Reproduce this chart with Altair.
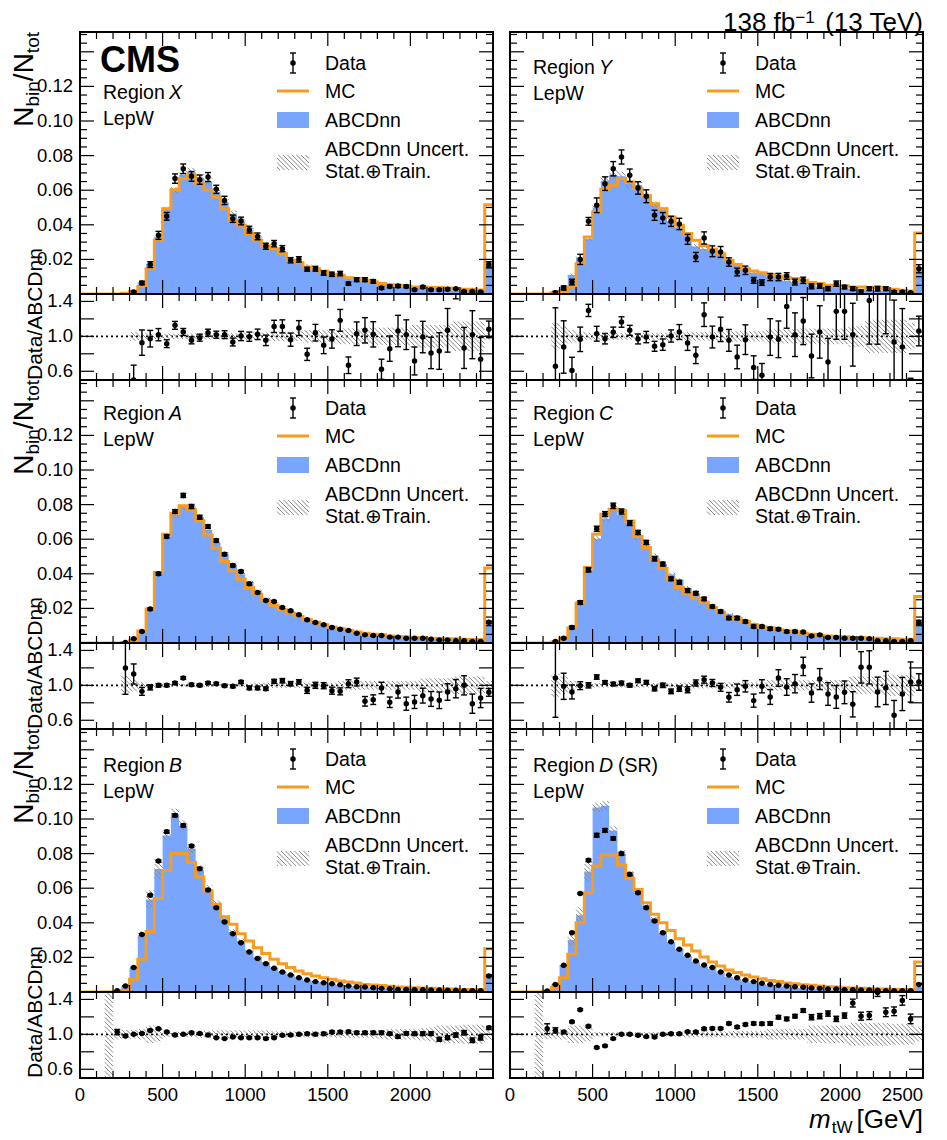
import math
import altair as alt
import pandas as pd

# ------------------------------------------------------------------ geometry / style
W = 413                      # plot width of every panel (px)
HM_ROWS = [262, 263, 263]    # main panel heights (rows 1..3)
HR = 86                      # ratio panel height
PX_PER_UNIT = 34.6 / 0.02    # vertical scale of the main panels
YR = [0.5, 1.485]
FONT = "Liberation Sans"
BLUE = "#79a6fc"
ORANGE = "#f89c20"
HATCH = "#8a8a8a"

EDGES = list(range(0, 2501, 50))
CENTERS = [e + 25 for e in EDGES[:-1]]

# ------------------------------------------------------------------ Region X
X_ABCD = [0, 0, 0, 0, 0, 0.0005, 0.0025, 0.0069, 0.0175, 0.033,
          0.049, 0.060, 0.069, 0.0705, 0.067, 0.065, 0.059, 0.053, 0.0465, 0.042,
          0.0373, 0.0326, 0.0289, 0.0262, 0.0236, 0.0203, 0.0183, 0.0162, 0.0146, 0.0133,
          0.0117, 0.0102, 0.0092, 0.0083, 0.0078, 0.0071, 0.0058, 0.0052, 0.0046, 0.0044,
          0.0036, 0.0040, 0.0030, 0.0030, 0.0027, 0.0022, 0.0019, 0.0016, 0.0017, 0.0163]
X_MC = [0, 0, 0, 0, 0, 0.0005, 0.0015, 0.0044, 0.0146, 0.031,
        0.0493, 0.0603, 0.0667, 0.0686, 0.0638, 0.0599, 0.056, 0.0493, 0.0426, 0.0397,
        0.0349, 0.031, 0.0281, 0.0262, 0.0233, 0.0195, 0.0181, 0.0156, 0.0146, 0.0131,
        0.0112, 0.0108, 0.0094, 0.0089, 0.0079, 0.0069, 0.006, 0.0054, 0.005, 0.0046,
        0.004, 0.004, 0.0037, 0.0037, 0.0035, 0.0031, 0.0027, 0.0027, 0.0023, 0.0516]
X_DATA = [None, None, None, None, None, None, 0.0012, 0.0064, 0.0170, 0.0339,
          0.0449, 0.0667, 0.0724, 0.0680, 0.0661, 0.0676, 0.0605, 0.0541, 0.0435, 0.0422,
          0.0372, 0.0333, 0.0276, 0.0291, 0.0262, 0.0195, 0.0200, 0.0143, 0.0146, 0.0121,
          0.0114, 0.0118, 0.0060, 0.0083, 0.0083, 0.0073, 0.0035, 0.0044, 0.0046, 0.0044,
          0.0025, 0.0040, 0.0025, 0.0025, 0.0027, 0.0031, 0.0015, 0.0015, 0.0012, 0.0171]
X_RATIO = [None, None, None, None, None, None, 0.50, 0.928, 0.973, 1.019,
           0.916, 1.126, 1.05, 0.954, 0.985, 1.042, 1.019, 1.019, 0.935, 1.004,
           0.996, 1.023, 0.954, 1.114, 1.114, 0.962, 1.095, 0.794, 1.042, 0.897,
           0.97, 1.183, 0.669, 1.03, 1.069, 1.023, 0.623, 0.859, 1.061, 1.019,
           0.718, 0.992, 0.81, 0.832, 1.069, 1.6, 0.867, 1.019, 0.737, 1.08]
X_RERR = [0, 0, 0, 0, 0, 0, 0.17, 0.145, 0.095, 0.07,
          0.045, 0.045, 0.04, 0.04, 0.04, 0.04, 0.04, 0.045, 0.045, 0.053,
          0.053, 0.06, 0.06, 0.07, 0.075, 0.075, 0.085, 0.07, 0.095, 0.095,
          0.105, 0.125, 0.095, 0.135, 0.145, 0.145, 0.115, 0.145, 0.18, 0.17,
          0.16, 0.18, 0.18, 0.21, 0.25, 0.17, 0.235, 0.275, 0.25, 0.095]
X_UNC = [0, 0, 0, 0, 0, 0, 0.05, 0.04, 0.03, 0.03,
         0.03, 0.03, 0.03, 0.035, 0.035, 0.035, 0.035, 0.035, 0.035, 0.045,
         0.045, 0.045, 0.045, 0.055, 0.055, 0.055, 0.055, 0.07, 0.07, 0.07,
         0.07, 0.09, 0.09, 0.09, 0.09, 0.1, 0.1, 0.1, 0.1, 0.1,
         0.13, 0.13, 0.13, 0.13, 0.13, 0.17, 0.17, 0.17, 0.17, 0.04]

# ------------------------------------------------------------------ Region Y
Y_ABCD = [0, 0, 0, 0, 0, 0.0012, 0.004, 0.011, 0.021, 0.032,
          0.050, 0.0655, 0.069, 0.068, 0.064, 0.063, 0.057, 0.0515, 0.0485, 0.042,
          0.0385, 0.034, 0.0275, 0.026, 0.0249, 0.0225, 0.0194, 0.0166, 0.0142, 0.0123,
          0.0119, 0.0099, 0.0101, 0.0077, 0.0068, 0.0067, 0.0057, 0.0044, 0.0044, 0.0047,
          0.0031, 0.0030, 0.0028, 0.0022, 0.002, 0.0018, 0.0013, 0.0014, 0.0012, 0.0138]
Y_MC = [0, 0, 0, 0, 0, 0.0008, 0.0015, 0.004, 0.0175, 0.033,
        0.0474, 0.0605, 0.0628, 0.0667, 0.0647, 0.0609, 0.057, 0.0522, 0.0493, 0.0445,
        0.0397, 0.0349, 0.031, 0.0281, 0.0258, 0.0233, 0.0195, 0.017, 0.0146, 0.0133,
        0.0123, 0.0112, 0.0104, 0.0094, 0.0089, 0.0079, 0.0066, 0.006, 0.005, 0.0046,
        0.0046, 0.004, 0.004, 0.0037, 0.0037, 0.0031, 0.0027, 0.0021, 0.0017, 0.0353]
Y_DATA = [None, None, None, None, None, 0.0008, 0.0035, 0.0069, 0.0200, 0.042,
          0.0513, 0.0638, 0.0724, 0.0792, 0.0686, 0.0613, 0.0565, 0.0455, 0.0439, 0.0420,
          0.0405, 0.0316, 0.0214, 0.0324, 0.0247, 0.0243, 0.0185, 0.0127, 0.0137, 0.0079,
          0.0066, 0.0098, 0.0098, 0.0104, 0.0069, 0.0079, 0.0044, 0.0046, 0.0031, 0.0060,
          0.0040, 0.0031, 0.0012, 0.0031, 0.0031, 0.0031, 0.0012, 0.0012, 0.0008, 0.0146]
Y_RATIO = [None, None, None, None, None, 0.657, 0.878, 0.61, 0.966, 1.297,
           1.03, 0.973, 1.046, 1.164, 1.069, 0.97, 0.992, 0.886, 0.905, 1.004,
           1.05, 0.924, 0.783, 1.248, 0.992, 1.08, 0.954, 0.764, 0.962, 0.642,
           0.554, 0.992, 0.966, 1.343, 1.019, 1.175, 0.775, 1.05, 0.707, 1.286,
           1.286, 1.019, 2.5, 1.411, 1.6, 1.65, 0.935, 0.878, 0.3, 1.061]
Y_RERR = [0, 0, 0, 0, 0, 0.67, 0.3, 0.15, 0.14, 0.07,
          0.085, 0.06, 0.06, 0.06, 0.057, 0.057, 0.065, 0.057, 0.065, 0.07,
          0.085, 0.085, 0.095, 0.135, 0.125, 0.14, 0.125, 0.135, 0.17, 0.135,
          0.135, 0.21, 0.21, 0.25, 0.25, 0.27, 0.25, 0.3, 0.27, 0.32,
          0.32, 0.36, 0.4, 0.5, 0.69, 0.62, 0.48, 0.44, 0.22, 0.17]
Y_UNC = [0, 0, 0, 0, 0, 0.15, 0.11, 0.07, 0.05, 0.04,
         0.04, 0.04, 0.04, 0.04, 0.04, 0.04, 0.04, 0.04, 0.04, 0.05,
         0.05, 0.05, 0.05, 0.05, 0.05, 0.06, 0.06, 0.06, 0.06, 0.06,
         0.06, 0.08, 0.08, 0.08, 0.08, 0.09, 0.09, 0.09, 0.09, 0.09,
         0.09, 0.12, 0.12, 0.19, 0.19, 0.19, 0.19, 0.19, 0.15, 0.06]

# ------------------------------------------------------------------ Region A
A_ABCD = [0, 0, 0, 0, 0, 0.0003, 0.0021, 0.0071, 0.0200, 0.040,
          0.0616, 0.074, 0.0787, 0.0783, 0.0727, 0.0655, 0.0581, 0.0515, 0.0453, 0.0398,
          0.0353, 0.0301, 0.0256, 0.0229, 0.0195, 0.0183, 0.0157, 0.0142, 0.0118, 0.0105,
          0.0096, 0.0086, 0.0071, 0.0062, 0.0058, 0.0051, 0.0044, 0.0042, 0.0037, 0.0035,
          0.0035, 0.0032, 0.0026, 0.0022, 0.002, 0.0014, 0.0013, 0.0011, 0.0011, 0.013]
A_MC = [0, 0, 0, 0, 0, 0.0003, 0.0013, 0.007, 0.0196, 0.0407,
        0.0629, 0.075, 0.0793, 0.077, 0.0706, 0.0625, 0.0548, 0.0471, 0.0417, 0.0369,
        0.0321, 0.0282, 0.0244, 0.0217, 0.0192, 0.0172, 0.0153, 0.0134, 0.012, 0.0105,
        0.0092, 0.0082, 0.0072, 0.0063, 0.0057, 0.0051, 0.0047, 0.0041, 0.0038, 0.0034,
        0.0032, 0.003, 0.0028, 0.0026, 0.0024, 0.0024, 0.0022, 0.002, 0.002, 0.0433]
A_DATA = [None, None, None, None, None, 0.0003, 0.0024, 0.0066, 0.0196, 0.040,
          0.0616, 0.076, 0.0853, 0.0789, 0.0727, 0.0673, 0.0592, 0.0513, 0.0448, 0.0413,
          0.0342, 0.0292, 0.0246, 0.024, 0.0205, 0.0186, 0.0163, 0.0134, 0.0118, 0.0105,
          0.009, 0.008, 0.0072, 0.0057, 0.0047, 0.0043, 0.0043, 0.0034, 0.0034, 0.0028,
          0.0028, 0.0028, 0.0022, 0.0018, 0.0018, 0.0013, 0.0013, 0.0009, 0.0009, 0.012]
A_RATIO = [None, None, None, None, None, 1.198, 1.13, 0.931, 0.977, 1.0,
           1.0, 1.027, 1.084, 1.008, 1.0, 1.027, 1.019, 0.996, 0.989, 1.038,
           0.97, 0.97, 0.962, 1.046, 1.053, 1.019, 1.038, 0.943, 1.0, 0.996,
           0.939, 0.931, 1.019, 1.038, 0.817, 0.836, 0.97, 0.806, 0.924, 0.79,
           0.81, 0.882, 0.844, 0.829, 0.924, 0.962, 1.0, 0.79, 0.855, 0.92]
A_RERR = [0, 0, 0, 0, 0, 0.3, 0.115, 0.045, 0.03, 0.02,
          0.015, 0.015, 0.015, 0.015, 0.015, 0.015, 0.015, 0.015, 0.017, 0.017,
          0.02, 0.02, 0.02, 0.022, 0.025, 0.025, 0.027, 0.035, 0.035, 0.035,
          0.04, 0.04, 0.045, 0.045, 0.055, 0.055, 0.065, 0.06, 0.07, 0.075,
          0.075, 0.085, 0.085, 0.095, 0.095, 0.105, 0.11, 0.11, 0.11, 0.045]
A_UNC = [0, 0, 0, 0, 0, 0.11, 0.07, 0.04, 0.02, 0.02,
         0.02, 0.02, 0.02, 0.02, 0.02, 0.02, 0.02, 0.02, 0.02, 0.02,
         0.02, 0.03, 0.03, 0.03, 0.03, 0.03, 0.03, 0.03, 0.03, 0.03,
         0.03, 0.05, 0.05, 0.05, 0.05, 0.05, 0.05, 0.05, 0.05, 0.05,
         0.05, 0.08, 0.08, 0.08, 0.08, 0.1, 0.1, 0.1, 0.1, 0.05]

# ------------------------------------------------------------------ Region C
C_ABCD = [0, 0, 0, 0, 0, 0.0008, 0.0028, 0.0097, 0.0235, 0.0423,
          0.0603, 0.072, 0.0781, 0.074, 0.0693, 0.0607, 0.0562, 0.0506, 0.0456, 0.0398,
          0.0365, 0.0319, 0.028, 0.0239, 0.0205, 0.0186, 0.0167, 0.0152, 0.0125, 0.0115,
          0.0096, 0.0095, 0.0074, 0.0067, 0.0065, 0.0052, 0.0045, 0.0044, 0.0036, 0.0037,
          0.003, 0.0036, 0.0023, 0.002, 0.0014, 0.0013, 0.0014, 0.001, 0.0013, 0.0116]
C_MC = [0, 0, 0, 0, 0, 0.0006, 0.0028, 0.0086, 0.023, 0.0436,
        0.0629, 0.0744, 0.0773, 0.0766, 0.0705, 0.0616, 0.0552, 0.048, 0.0432, 0.0365,
        0.0321, 0.0288, 0.0259, 0.0236, 0.0205, 0.0176, 0.0153, 0.014, 0.0124, 0.0105,
        0.0092, 0.0086, 0.0076, 0.007, 0.0063, 0.0057, 0.0051, 0.0043, 0.0041, 0.0038,
        0.0036, 0.0032, 0.0032, 0.0028, 0.0028, 0.0024, 0.0024, 0.0022, 0.0022, 0.0269]
C_DATA = [None, None, None, None, None, 0.0009, 0.0028, 0.009, 0.0234, 0.0423,
          0.066, 0.0745, 0.0793, 0.076, 0.0693, 0.0639, 0.0581, 0.0487, 0.0456, 0.0371,
          0.0351, 0.0303, 0.0288, 0.0255, 0.0211, 0.0182, 0.0144, 0.0144, 0.0124, 0.0095,
          0.0095, 0.0082, 0.008, 0.0066, 0.0066, 0.0063, 0.0041, 0.0047, 0.0032, 0.0032,
          0.0028, 0.0028, 0.0028, 0.0024, 0.0013, 0.0013, 0.0009, 0.0009, 0.0013, 0.012]
C_RATIO = [None, None, None, None, None, 1.084, 0.989, 0.924, 0.996, 1.0,
           1.095, 1.034, 1.015, 1.027, 1.0, 1.053, 1.034, 0.962, 1.0, 0.931,
           0.962, 0.95, 1.027, 1.065, 1.027, 0.977, 0.863, 0.95, 0.989, 0.825,
           0.989, 0.867, 1.084, 0.981, 1.019, 1.217, 0.912, 1.072, 0.901, 0.867,
           0.92, 0.783, 1.206, 1.206, 0.924, 0.97, 0.657, 0.901, 1.038, 1.038]
C_RERR = [0, 0, 0, 0, 0, 0.45, 0.15, 0.08, 0.045, 0.03,
          0.025, 0.02, 0.02, 0.02, 0.02, 0.02, 0.022, 0.025, 0.025, 0.027,
          0.03, 0.035, 0.035, 0.04, 0.04, 0.045, 0.055, 0.065, 0.065, 0.075,
          0.075, 0.085, 0.095, 0.095, 0.105, 0.105, 0.105, 0.12, 0.13, 0.13,
          0.13, 0.145, 0.18, 0.19, 0.17, 0.19, 0.17, 0.19, 0.23, 0.095]
C_UNC = [0, 0, 0, 0, 0, 0.13, 0.1, 0.05, 0.025, 0.025,
         0.025, 0.025, 0.025, 0.025, 0.025, 0.025, 0.025, 0.025, 0.025, 0.025,
         0.025, 0.035, 0.035, 0.035, 0.035, 0.035, 0.035, 0.035, 0.035, 0.035,
         0.035, 0.06, 0.06, 0.06, 0.06, 0.06, 0.06, 0.06, 0.06, 0.06,
         0.06, 0.1, 0.1, 0.1, 0.1, 0.12, 0.12, 0.12, 0.12, 0.05]

# ------------------------------------------------------------------ Region B
B_ABCD = [0, 0, 0, 0.0001, 0.0008, 0.0036, 0.0141, 0.033, 0.0535, 0.0711,
          0.0904, 0.1029, 0.0963, 0.0828, 0.0705, 0.0595, 0.0506, 0.0426, 0.0347, 0.0296,
          0.024, 0.0201, 0.0172, 0.0142, 0.0117, 0.0099, 0.0083, 0.0068, 0.006, 0.0054,
          0.0047, 0.0041, 0.0034, 0.003, 0.0028, 0.0025, 0.0021, 0.0019, 0.0015, 0.0015,
          0.0013, 0.0013, 0.0012, 0.0011, 0.001, 0.0009, 0.0008, 0.0008, 0.0008, 0.0086]
B_MC = [0, 0, 0, 0, 0.0003, 0.001, 0.0073, 0.0189, 0.0349, 0.0541,
        0.0703, 0.080, 0.080, 0.0748, 0.0665, 0.0584, 0.0507, 0.0435, 0.0391, 0.0337,
        0.0295, 0.0256, 0.0222, 0.0189, 0.0164, 0.0141, 0.0121, 0.0106, 0.0092, 0.0083,
        0.0073, 0.0064, 0.0058, 0.0052, 0.0044, 0.004, 0.0037, 0.0033, 0.0029, 0.0027,
        0.0025, 0.0023, 0.0021, 0.0019, 0.0017, 0.0016, 0.0015, 0.0014, 0.0014, 0.025]
B_DATA = [None, None, None, None, 0.0008, 0.0035, 0.0141, 0.0333, 0.0559, 0.0757,
          0.0927, 0.1021, 0.0963, 0.0844, 0.0713, 0.059, 0.0487, 0.0405, 0.0337, 0.0285,
          0.0231, 0.0193, 0.0164, 0.0137, 0.0116, 0.0098, 0.0083, 0.0069, 0.006, 0.0054,
          0.0048, 0.0042, 0.0035, 0.0031, 0.0029, 0.0025, 0.0021, 0.0019, 0.0015, 0.0015,
          0.0013, 0.0013, 0.0012, 0.0012, 0.001, 0.001, 0.0008, 0.0008, 0.0008, 0.0092]
B_RATIO = [None, None, None, None, 1.026, 0.981, 1.0, 1.011, 1.045, 1.064,
           1.026, 0.992, 1.0, 1.019, 1.011, 0.992, 0.962, 0.951, 0.97, 0.962,
           0.962, 0.962, 0.951, 0.962, 0.989, 0.992, 1.0, 1.008, 1.0, 1.008,
           1.026, 1.026, 1.03, 1.019, 1.019, 1.019, 1.019, 1.008, 0.974, 1.011,
           1.008, 1.008, 1.008, 0.943, 0.962, 0.992, 1.019, 0.932, 0.962, 1.075]
B_RERR = [0, 0, 0, 0, 0.03, 0.012, 0.008, 0.008, 0.008, 0.008,
          0.008, 0.008, 0.008, 0.008, 0.008, 0.008, 0.008, 0.008, 0.008, 0.008,
          0.01, 0.01, 0.01, 0.01, 0.01, 0.012, 0.012, 0.012, 0.012, 0.012,
          0.014, 0.014, 0.014, 0.015, 0.015, 0.015, 0.016, 0.016, 0.017, 0.018,
          0.018, 0.02, 0.02, 0.022, 0.022, 0.024, 0.025, 0.026, 0.027, 0.015]
B_UNC = [0, 0, 0, 5.0, 0.06, 0.05, 0.05, 0.06, 0.1, 0.08,
         0.03, 0.03, 0.03, 0.03, 0.04, 0.04, 0.045, 0.045, 0.045, 0.045,
         0.045, 0.045, 0.045, 0.035, 0.035, 0.035, 0.035, 0.035, 0.035, 0.035,
         0.035, 0.04, 0.04, 0.04, 0.04, 0.05, 0.05, 0.06, 0.06, 0.06,
         0.06, 0.07, 0.08, 0.1, 0.1, 0.1, 0.11, 0.11, 0.11, 0.06]

# ------------------------------------------------------------------ Region D (SR)
D_ABCD = [0, 0, 0, 0.0001, 0.0006, 0.0042, 0.015, 0.030, 0.0444, 0.0696,
          0.1067, 0.1076, 0.0934, 0.080, 0.068, 0.058, 0.050, 0.0423, 0.0343, 0.0289,
          0.0245, 0.0206, 0.0174, 0.0147, 0.0132, 0.0109, 0.0087, 0.0077, 0.0062, 0.0053,
          0.0045, 0.0039, 0.0033, 0.003, 0.0026, 0.0021, 0.0019, 0.0017, 0.0014, 0.0014,
          0.0011, 0.001, 0.001, 0.0008, 0.0007, 0.0006, 0.0006, 0.0006, 0.0006, 0.003]
D_MC = [0, 0, 0, 0, 0.0005, 0.0025, 0.0083, 0.0218, 0.04, 0.0574,
        0.0728, 0.0792, 0.0792, 0.0734, 0.0657, 0.0593, 0.0516, 0.0449, 0.0401, 0.0356,
        0.0308, 0.0272, 0.0237, 0.0202, 0.0173, 0.015, 0.0127, 0.0112, 0.0098, 0.0087,
        0.0077, 0.0067, 0.006, 0.0052, 0.0048, 0.0042, 0.0039, 0.0035, 0.0031, 0.0029,
        0.0025, 0.0023, 0.0021, 0.0019, 0.0017, 0.0017, 0.0015, 0.0014, 0.0014, 0.0173]
D_DATA = [None, None, None, None, 0.0006, 0.0044, 0.0154, 0.0343, 0.057, 0.0761,
          0.0906, 0.0934, 0.0888, 0.08, 0.068, 0.0574, 0.0487, 0.041, 0.0343, 0.0291,
          0.0247, 0.0212, 0.0179, 0.0156, 0.0141, 0.0116, 0.0098, 0.0083, 0.0069, 0.006,
          0.005, 0.0044, 0.0039, 0.0035, 0.0031, 0.0027, 0.0023, 0.0021, 0.0017, 0.0017,
          0.0013, 0.0013, 0.0012, 0.0011, 0.001, 0.0008, 0.0008, 0.0008, 0.0008, 0.0044]
D_RATIO = [None, None, None, None, 1.064, 1.045, 1.026, 1.143, 1.283, 1.094,
           0.849, 0.868, 0.951, 1.0, 1.0, 0.989, 0.974, 0.97, 1.0, 1.008,
           1.008, 1.03, 1.026, 1.064, 1.068, 1.068, 1.125, 1.083, 1.113, 1.125,
           1.121, 1.125, 1.196, 1.177, 1.208, 1.272, 1.196, 1.208, 1.238, 1.177,
           1.215, 1.358, 1.208, 1.215, 1.479, 1.253, 1.264, 1.389, 1.177, 1.6]
D_RERR = [0, 0, 0, 0, 0.057, 0.03, 0.01, 0.01, 0.01, 0.01,
          0.01, 0.01, 0.01, 0.01, 0.01, 0.01, 0.01, 0.01, 0.01, 0.01,
          0.01, 0.01, 0.012, 0.012, 0.012, 0.012, 0.014, 0.014, 0.014, 0.016,
          0.016, 0.02, 0.02, 0.02, 0.02, 0.02, 0.03, 0.03, 0.03, 0.03,
          0.03, 0.045, 0.045, 0.045, 0.045, 0.05, 0.05, 0.055, 0.055, 0.05]
D_UNC = [0, 0, 0, 5.0, 0.05, 0.05, 0.06, 0.1, 0.1, 0.08,
         0.025, 0.025, 0.025, 0.025, 0.025, 0.025, 0.025, 0.025, 0.025, 0.025,
         0.025, 0.035, 0.035, 0.035, 0.035, 0.035, 0.035, 0.04, 0.04, 0.04,
         0.04, 0.06, 0.06, 0.06, 0.06, 0.06, 0.1, 0.1, 0.1, 0.1,
         0.1, 0.13, 0.13, 0.13, 0.13, 0.13, 0.12, 0.12, 0.12, 0.08]

# ------------------------------------------------------------------ tick values / labels
X_MAJOR = [500, 1000, 1500, 2000]
X_MINOR = [100, 200, 300, 400, 600, 700, 800, 900, 1100, 1200, 1300, 1400,
           1600, 1700, 1800, 1900, 2100, 2200, 2300, 2400]
YM_MAJOR = [0.02, 0.04, 0.06, 0.08, 0.10, 0.12, 0.14]
YM_MINOR = [0.005, 0.01, 0.015, 0.025, 0.03, 0.035, 0.045, 0.05, 0.055, 0.065, 0.07,
            0.075, 0.085, 0.09, 0.095, 0.105, 0.11, 0.115, 0.125, 0.13, 0.135, 0.145, 0.15]
YR_MAJOR = [0.6, 0.8, 1.0, 1.2, 1.4]
YM_LABELS = [0.02, 0.04, 0.06, 0.08, 0.10, 0.12]
YM_LABEL_TEXT = ["0.02", "0.04", "0.06", "0.08", "0.10", "0.12"]
YR_LABELS = [0.6, 1.0, 1.4]
YR_LABEL_TEXT = ["0.6", "1.0", "1.4"]
X_LABELS = [0, 500, 1000, 1500, 2000]
X_LABEL_TEXT = ["0", "500", "1000", "1500", "2000"]
X_LAST = [2500]
X_LAST_TEXT = ["2500"]

TICKFS = 18.5
ONE = pd.DataFrame({"a": [0]})
XS = alt.Scale(domain=[0, 2500], nice=False, zero=False)


def yscale(dom):
    return alt.Scale(domain=dom, nice=False, zero=False)


def px2x(px):
    return px * 2500.0 / W


def py2y(py, dom, H):
    return dom[1] - py / H * (dom[1] - dom[0])


def txt(s, x, y, size=19.5, weight="normal", style="normal", align="left",
        angle=0, font=FONT):
    return alt.Chart(ONE).mark_text(
        text=s, fontSize=size, fontWeight=weight, fontStyle=style, align=align,
        baseline="alphabetic", angle=angle, font=font, color="black"
    ).encode(x=alt.value(x), y=alt.value(y))


def ylabel_layer(ys, vals, texts):
    df = pd.DataFrame({"v": vals, "t": texts})
    return alt.Chart(df).mark_text(align="right", baseline="middle", fontSize=TICKFS,
                                   font=FONT, color="black").encode(
        y=alt.Y("v:Q", scale=ys, axis=None), x=alt.value(-7), text="t:N")


def xlabel_layer(vals, texts, H, align):
    df = pd.DataFrame({"v": vals, "t": texts})
    return alt.Chart(df).mark_text(align=align, baseline="top", fontSize=TICKFS,
                                   font=FONT, color="black").encode(
        x=alt.X("v:Q", scale=XS, axis=None), y=alt.value(H + 8), text="t:N")


def hatch_df(lo_list, hi_list, dom, H, d=4.5):
    kx = W / 2500.0
    ky = H / (dom[1] - dom[0])
    rows = []
    for i in range(len(lo_list)):
        lo, hi = lo_list[i], hi_list[i]
        if lo is None:
            continue
        b0 = max(lo, dom[0])
        b1 = min(hi, dom[1])
        if b1 <= b0:
            continue
        X0, X1 = EDGES[i] * kx, EDGES[i + 1] * kx
        Y0, Y1 = (b0 - dom[0]) * ky, (b1 - dom[0]) * ky
        if Y1 - Y0 < 0.6:
            continue
        k = math.ceil((X0 + Y0) / d)
        while k * d < X1 + Y1:
            c = k * d
            xa = max(X0, c - Y1)
            xb = min(X1, c - Y0)
            if xb > xa:
                rows.append({"x": xa / kx, "y": dom[0] + (c - xa) / ky,
                             "x2": xb / kx, "y2": dom[0] + (c - xb) / ky})
            k += 1
    return pd.DataFrame(rows, columns=["x", "y", "x2", "y2"])


def hatch_box_df(px0, px1, py0, py1, dom, H, d=4.5):
    rows = []
    Y0, Y1 = H - py1, H - py0
    k = math.ceil((px0 + Y0) / d)
    while k * d < px1 + Y1:
        c = k * d
        xa = max(px0, c - Y1)
        xb = min(px1, c - Y0)
        if xb > xa:
            rows.append({"x": px2x(xa), "y": py2y(H - (c - xa), dom, H),
                         "x2": px2x(xb), "y2": py2y(H - (c - xb), dom, H)})
        k += 1
    return pd.DataFrame(rows, columns=["x", "y", "x2", "y2"])


def tick_layers(ys, H, ymaj, ymin):
    L = []
    for vals, ln in ((X_MAJOR, 14), (X_MINOR, 7)):
        df = pd.DataFrame({"v": vals})
        base = alt.Chart(df).mark_rule(color="black", strokeWidth=1.2)
        L.append(base.encode(x=alt.X("v:Q", scale=XS, axis=None),
                             y=alt.value(H), y2=alt.value(H - ln)))
        L.append(base.encode(x=alt.X("v:Q", scale=XS, axis=None),
                             y=alt.value(0), y2=alt.value(ln)))
    for vals, ln in ((ymaj, 14), (ymin, 7)):
        if not vals:
            continue
        df = pd.DataFrame({"v": vals})
        base = alt.Chart(df).mark_rule(color="black", strokeWidth=1.2)
        L.append(base.encode(y=alt.Y("v:Q", scale=ys, axis=None),
                             x=alt.value(0), x2=alt.value(ln)))
        L.append(base.encode(y=alt.Y("v:Q", scale=ys, axis=None),
                             x=alt.value(W), x2=alt.value(W - ln)))
    return L


def frame(H):
    return alt.Chart(ONE).mark_rect(fillOpacity=0, stroke="black", strokeWidth=2).encode(
        x=alt.value(0), x2=alt.value(W), y=alt.value(0), y2=alt.value(H))


def errorbar_layers(cx, val, err, ys):
    rows = []
    for c, v, e in zip(cx, val, err):
        if v is None:
            continue
        rows.append({"x": c, "v": v, "lo": v - e, "hi": v + e,
                     "xa": c - 18, "xb": c + 18})
    df = pd.DataFrame(rows)
    rule = alt.Chart(df).mark_rule(color="black", strokeWidth=1.4, clip=True)
    bar = rule.encode(x=alt.X("x:Q", scale=XS, axis=None),
                      y=alt.Y("lo:Q", scale=ys, axis=None), y2="hi:Q")
    cap_hi = rule.encode(x=alt.X("xa:Q", scale=XS, axis=None), x2="xb:Q",
                         y=alt.Y("hi:Q", scale=ys, axis=None))
    cap_lo = rule.encode(x=alt.X("xa:Q", scale=XS, axis=None), x2="xb:Q",
                         y=alt.Y("lo:Q", scale=ys, axis=None))
    pts = alt.Chart(df).mark_circle(color="black", size=30, opacity=1, clip=True).encode(
        x=alt.X("x:Q", scale=XS, axis=None), y=alt.Y("v:Q", scale=ys, axis=None))
    return [bar, cap_hi, cap_lo, pts]


def legend_layers(ys, dom, H, dy=0):
    L = []
    sx0, sx1, tx = 197, 229, 245
    dfd = pd.DataFrame({"x": [px2x(213)], "v": [py2y(29 + dy, dom, H)],
                        "lo": [py2y(39 + dy, dom, H)], "hi": [py2y(19 + dy, dom, H)],
                        "xa": [px2x(210)], "xb": [px2x(216)]})
    rule = alt.Chart(dfd).mark_rule(color="black", strokeWidth=1.4)
    L.append(rule.encode(x=alt.X("x:Q", scale=XS, axis=None),
                         y=alt.Y("lo:Q", scale=ys, axis=None), y2="hi:Q"))
    L.append(rule.encode(x=alt.X("xa:Q", scale=XS, axis=None), x2="xb:Q",
                         y=alt.Y("hi:Q", scale=ys, axis=None)))
    L.append(rule.encode(x=alt.X("xa:Q", scale=XS, axis=None), x2="xb:Q",
                         y=alt.Y("lo:Q", scale=ys, axis=None)))
    L.append(alt.Chart(dfd).mark_circle(color="black", size=30, opacity=1).encode(
        x=alt.X("x:Q", scale=XS, axis=None), y=alt.Y("v:Q", scale=ys, axis=None)))
    dfm = pd.DataFrame({"x": [px2x(sx0)], "x2": [px2x(sx1)], "y": [py2y(57 + dy, dom, H)]})
    L.append(alt.Chart(dfm).mark_rule(color=ORANGE, strokeWidth=3).encode(
        x=alt.X("x:Q", scale=XS, axis=None), x2="x2:Q", y=alt.Y("y:Q", scale=ys, axis=None)))
    dfb = pd.DataFrame({"x": [px2x(sx0)], "x2": [px2x(sx1)],
                        "y": [py2y(78 + dy, dom, H)], "y2": [py2y(94 + dy, dom, H)]})
    L.append(alt.Chart(dfb).mark_rect(color=BLUE).encode(
        x=alt.X("x:Q", scale=XS, axis=None), x2="x2:Q",
        y=alt.Y("y:Q", scale=ys, axis=None), y2="y2:Q"))
    dfh = hatch_box_df(sx0, sx1, 121 + dy, 136 + dy, dom, H)
    L.append(alt.Chart(dfh).mark_rule(color=HATCH, strokeWidth=1).encode(
        x=alt.X("x:Q", scale=XS, axis=None), x2="x2:Q",
        y=alt.Y("y:Q", scale=ys, axis=None), y2="y2:Q"))
    L.append(txt("Data", tx, 36 + dy))
    L.append(txt("MC", tx, 64 + dy))
    L.append(txt("ABCDnn", tx, 93 + dy))
    L.append(txt("ABCDnn Uncert.", tx, 122 + dy))
    L.append(txt("Stat.\u2295Train.", tx, 144 + dy))
    return L


def main_panel(abcd, mc, data, rerr, unc, left, label_layers, H, leg_dy=0):
    dom = [0.0, H / PX_PER_UNIT]
    ys = yscale(dom)
    layers = []
    sdf = pd.DataFrame({"x": EDGES, "a": abcd + [abcd[-1]], "m": mc + [mc[-1]]})
    layers.append(alt.Chart(sdf).mark_area(interpolate="step-after", color=BLUE,
                                           opacity=1, clip=True).encode(
        x=alt.X("x:Q", scale=XS, axis=None), y=alt.Y("a:Q", scale=ys, axis=None)))
    lo = [a * (1 - u) if (u > 0 and a > 0) else None for a, u in zip(abcd, unc)]
    hi = [a * (1 + u) if (u > 0 and a > 0) else None for a, u in zip(abcd, unc)]
    hdf = hatch_df(lo, hi, dom, H)
    if len(hdf):
        layers.append(alt.Chart(hdf).mark_rule(color=HATCH, strokeWidth=1, clip=True).encode(
            x=alt.X("x:Q", scale=XS, axis=None), x2="x2:Q",
            y=alt.Y("y:Q", scale=ys, axis=None), y2="y2:Q"))
    layers.append(alt.Chart(sdf).mark_line(interpolate="step-after", color=ORANGE,
                                           strokeWidth=3, clip=True).encode(
        x=alt.X("x:Q", scale=XS, axis=None), y=alt.Y("m:Q", scale=ys, axis=None)))
    derr = [(r * a) for r, a in zip(rerr, abcd)]
    layers += errorbar_layers(CENTERS, data, derr, ys)
    layers += tick_layers(ys, H, YM_MAJOR, [v for v in YM_MINOR if v < dom[1]])
    layers += legend_layers(ys, dom, H, leg_dy)
    if left:
        layers.append(ylabel_layer(ys, YM_LABELS, YM_LABEL_TEXT))
    layers += label_layers
    layers.append(frame(H))
    return alt.layer(*layers).properties(width=W, height=H)


def ratio_panel(ratio, rerr, unc, left, bottom, right_col, extra=None):
    ys = yscale(YR)
    layers = []
    one = pd.DataFrame({"y": [1.0]})
    layers.append(alt.Chart(one).mark_rule(color="black", strokeWidth=1.6,
                                           strokeDash=[2, 3]).encode(
        y=alt.Y("y:Q", scale=ys, axis=None)))
    lo = [1 - u if u > 0 else None for u in unc]
    hi = [1 + u if u > 0 else None for u in unc]
    hdf = hatch_df(lo, hi, YR, HR)
    layers.append(alt.Chart(hdf).mark_rule(color=HATCH, strokeWidth=1, clip=True).encode(
        x=alt.X("x:Q", scale=XS, axis=None), x2="x2:Q",
        y=alt.Y("y:Q", scale=ys, axis=None), y2="y2:Q"))
    layers += errorbar_layers(CENTERS, ratio, rerr, ys)
    layers += tick_layers(ys, HR, YR_MAJOR, [])
    if left:
        layers.append(ylabel_layer(ys, YR_LABELS, YR_LABEL_TEXT))
    if bottom:
        layers.append(xlabel_layer(X_LABELS, X_LABEL_TEXT, HR, "center"))
        if right_col:
            layers.append(xlabel_layer(X_LAST, X_LAST_TEXT, HR, "right"))
    if extra:
        layers += extra
    layers.append(frame(HR))
    return alt.layer(*layers).properties(width=W, height=HR)


def region_label(letter, y0, suffix=None):
    L = [txt("Region", 23, y0), txt(letter, 89, y0, style="italic")]
    if suffix:
        L.append(txt(suffix, 89 + 19, y0))
    L.append(txt("LepW", 23, y0 + 26))
    return L


def ytitle_main():
    # N_bin / N_tot, rotated, top-aligned with the panel
    xb = -47
    big, small = 28, 19
    segs = [("N", big, 0), ("bin", small, 6), ("/N", big, 0), ("tot", small, 6)]
    widths = {"N": 0.722 * big, "bin": 1.334 * small, "/N": 1.0 * big, "tot": 1.112 * small}
    total = sum(widths[s] for s, _, _ in segs)
    L = []
    pos = total
    for s, size, sh in segs:
        L.append(txt(s, xb + sh, pos, size=size, angle=270))
        pos -= widths[s]
    return L


def ytitle_ratio():
    return [txt("Data/ABCDnn", -38, HR, size=21, angle=270)]


def xtitle():
    yb = HR + 50
    big, small = 26, 17
    w_gev = 2.557 * big
    w_tw = 1.222 * small
    x_gev = W
    x_tw = W - w_gev - 4
    x_m = x_tw - w_tw - 1
    return [txt("[GeV]", x_gev, yb, size=big, align="right"),
            txt("tW", x_tw, yb + 5, size=small, align="right"),
            txt("m", x_m, yb, size=big, style="italic", align="right")]


def lumi_label():
    size, ssize = 26, 17
    yb = -1
    w_tail = 4.168 * size
    w_sup = 1.14 * ssize
    return [txt(" (13 TeV)", W, yb, size=size, align="right"),
            txt("\u22121", W - w_tail, yb - 8, size=ssize, align="right"),
            txt("138 fb", W - w_tail - w_sup, yb, size=size, align="right")]


# ------------------------------------------------------------------ panels
H1, H2, H3 = HM_ROWS
cms = [txt("CMS", 20, 40, size=36, weight="bold")]

pX = main_panel(X_ABCD, X_MC, X_DATA, X_RERR, X_UNC, True,
                cms + region_label("X", 67) + ytitle_main(), H1, 2)
pY = main_panel(Y_ABCD, Y_MC, Y_DATA, Y_RERR, Y_UNC, False,
                lumi_label() + region_label("Y", 42), H1, 2)
rX = ratio_panel(X_RATIO, X_RERR, X_UNC, True, False, False, ytitle_ratio())
rY = ratio_panel(Y_RATIO, Y_RERR, Y_UNC, False, False, True)

pA = main_panel(A_ABCD, A_MC, A_DATA, A_RERR, A_UNC, True,
                region_label("A", 40) + ytitle_main(), H2, -1)
pC = main_panel(C_ABCD, C_MC, C_DATA, C_RERR, C_UNC, False, region_label("C", 40), H2, -1)
rA = ratio_panel(A_RATIO, A_RERR, A_UNC, True, False, False, ytitle_ratio())
rC = ratio_panel(C_RATIO, C_RERR, C_UNC, False, False, True)

pB = main_panel(B_ABCD, B_MC, B_DATA, B_RERR, B_UNC, True,
                region_label("B", 43) + ytitle_main(), H3, 1)
pD = main_panel(D_ABCD, D_MC, D_DATA, D_RERR, D_UNC, False,
                region_label("D", 43, "(SR)"), H3, 1)
rB = ratio_panel(B_RATIO, B_RERR, B_UNC, True, True, False, ytitle_ratio())
rD = ratio_panel(D_RATIO, D_RERR, D_UNC, False, True, True, xtitle())

chart = alt.concat(pX, pY, rX, rY, pA, pC, rA, rC, pB, pD, rB, rD,
                   columns=2, spacing={"row": 0, "column": 17},
                   bounds="flush", align="each").properties(
    padding={"left": 2, "top": 0, "right": 5, "bottom": 2}
).configure_view(strokeWidth=0).configure(font=FONT)

chart.save("out.html", embed_options={"renderer": "svg", "actions": False})
